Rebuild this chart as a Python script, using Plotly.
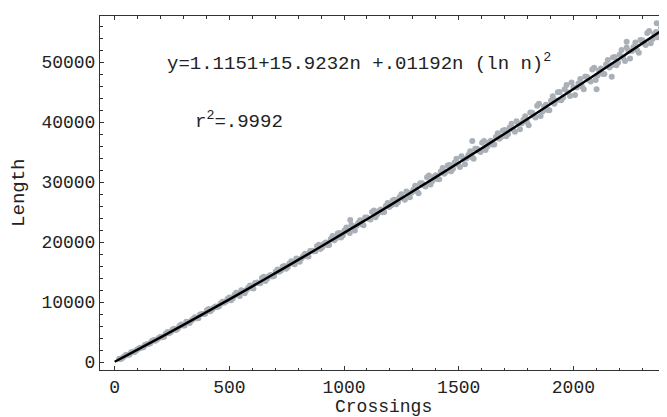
import plotly.graph_objects as go

# Fitted curve (crossings, length)
fit_n = [0, 100, 200, 300, 400, 500, 600, 700, 800, 900, 1000, 1100, 1200,
         1300, 1400, 1500, 1600, 1700, 1800, 1900, 2000, 2100, 2200, 2300, 2375]
fit_len = [40, 2070, 4120, 6200, 8310, 10450, 12610, 14800, 17010, 19250, 21510,
           23800, 26110, 28450, 30810, 33200, 35610, 38050, 40510, 42990, 45490,
           48010, 50550, 53100, 54990]

# Observed knots (estimated from the grey cloud)
obs_n = [20, 35, 50, 65, 80, 95, 110, 125, 140, 155, 170, 185, 200, 215, 230, 245,
         260, 275, 290, 305, 320, 335, 350, 365, 380, 395, 410, 425, 440, 455, 470, 485,
         500, 515, 530, 545, 560, 575, 590, 605, 620, 635, 650, 665, 680, 695, 710, 725,
         740, 755, 770, 785, 800, 815, 830, 845, 860, 875, 890, 905, 920, 935, 950, 965,
         980, 995, 1010, 1025, 1040, 1055, 1070, 1085, 1100, 1115, 1130, 1145, 1160, 1175, 1190, 1205,
         1220, 1235, 1250, 1265, 1280, 1295, 1310, 1325, 1340, 1355, 1370, 1385, 1400, 1415, 1430, 1445,
         1460, 1475, 1490, 1505, 1520, 1535, 1550, 1565, 1580, 1595, 1610, 1625, 1640, 1655, 1670, 1685,
         1700, 1715, 1730, 1745, 1760, 1775, 1790, 1805, 1820, 1835, 1850, 1865, 1880, 1895, 1910, 1925,
         1940, 1955, 1970, 1985, 2000, 2015, 2030, 2045, 2060, 2075, 2090, 2105, 2120, 2135, 2150, 2165,
         2180, 2195, 2210, 2225, 2240, 2255, 2270, 2285, 2300, 2315, 2330, 2345, 2360, 2375,
         1027, 1559, 2101, 2167, 2232, 2363]
obs_len = [540, 690, 1190, 1240, 1690, 1950, 2380, 2450, 2950, 3120, 3660, 3770, 4210, 4220, 4980, 5000,
           5550, 5560, 6260, 6070, 6680, 6910, 7470, 7300, 8010, 8050, 8820, 8760, 9260, 9280, 10050, 10070,
           10750, 10570, 11550, 11020, 11850, 12020, 12740, 12270, 13250, 13130, 14200, 13880, 14510, 14340, 15420, 15250,
           15980, 15820, 16800, 16280, 17110, 17300, 18030, 17570, 18550, 18440, 19530, 19140, 19930, 19520, 20980, 20570,
           21510, 21100, 22410, 21480, 22580, 22700, 23640, 22780, 24100, 23770, 25240, 24620, 25410, 25010, 26480, 26080,
           27030, 26630, 27960, 27030, 28130, 28260, 29390, 28140, 29790, 29250, 31100, 30160, 31110, 30470, 32330, 31690,
           32840, 32200, 33860, 32520, 33880, 33940, 35110, 33870, 35530, 34990, 36850, 35920, 36890, 36250, 38120, 37480,
           38650, 38020, 39690, 38360, 39730, 39800, 40960, 39460, 41530, 40730, 43050, 41730, 42880, 41960, 44280, 43600,
           45020, 44100, 46160, 44330, 45750, 45740, 47160, 45450, 47520, 46730, 49060, 47750, 48910, 47990, 50320, 49400,
           50820, 49900, 51980, 50150, 51830, 51820, 53250, 51550, 53620, 52830, 55160, 53840, 55000, 54220,
           23670, 36830, 45450, 47550, 53380, 56450]

obs2_n = [27, 42, 57, 72, 87, 102, 117, 132, 147, 162, 177, 192, 207, 222, 237, 252,
          267, 282, 297, 312, 327, 342, 357, 372, 387, 402, 417, 432, 447, 462, 477, 492,
          507, 522, 537, 552, 567, 582, 597, 612, 627, 642, 657, 672, 687, 702, 717, 732,
          747, 762, 777, 792, 807, 822, 837, 852, 867, 882, 897, 912, 927, 942, 957, 972,
          987, 1002, 1017, 1032, 1047, 1062, 1077, 1092, 1107, 1122, 1137, 1152, 1167, 1182, 1197, 1212,
          1227, 1242, 1257, 1272, 1287, 1302, 1317, 1332, 1347, 1362, 1377, 1392, 1407, 1422, 1437, 1452,
          1467, 1482, 1497, 1512, 1527, 1542, 1557, 1572, 1587, 1602, 1617, 1632, 1647, 1662, 1677, 1692,
          1707, 1722, 1737, 1752, 1767, 1782, 1797, 1812, 1827, 1842, 1857, 1872, 1887, 1902, 1917, 1932,
          1947, 1962, 1977, 1992, 2007, 2022, 2037, 2052, 2067, 2082, 2097, 2112, 2127, 2142, 2157, 2172,
          2187, 2202, 2217, 2232, 2247, 2262, 2277, 2292, 2307, 2322, 2337, 2352, 2367, 2382]
obs2_len = [500, 970, 1170, 1620, 1670, 2160, 2360, 2820, 3020, 3480, 3540, 3990, 4120, 4700, 4800, 5410,
            5330, 5980, 6080, 6690, 6500, 7180, 7280, 7900, 8010, 8620, 8460, 9060, 9170, 9760, 9870, 10490,
            10300, 11180, 11150, 11970, 11450, 12370, 12350, 13170, 13150, 13980, 13510, 14290, 14270, 15040, 15030, 15860,
            15540, 16420, 16400, 17230, 16720, 17650, 17640, 18480, 18460, 19300, 18830, 19670, 19490, 20500, 20310, 21400,
            20770, 21930, 21750, 22840, 21910, 23160, 22970, 24070, 23890, 24980, 24130, 25150, 24970, 26000, 25820, 26920,
            26290, 27470, 27290, 28400, 27470, 28720, 28450, 29810, 29460, 30810, 29570, 30820, 30480, 31740, 31390, 32750,
            31810, 33270, 32930, 34290, 32950, 34510, 34170, 35540, 35200, 36560, 35330, 36590, 36260, 37520, 37190, 38560,
            37620, 39090, 38760, 40130, 38800, 40370, 40040, 41590, 41050, 42720, 41010, 42560, 42020, 43560, 43030, 44950,
            43640, 45440, 44910, 46580, 44500, 46430, 45900, 47580, 47050, 48730, 47020, 48580, 48050, 49600, 49070, 50750,
            49440, 51250, 50720, 52410, 50580, 52520, 51990, 53680, 53150, 54820, 53120, 54670, 54140, 55690]

x_ticks = [0, 500, 1000, 1500, 2000]
y_ticks = [0, 10000, 20000, 30000, 40000, 50000]

FONT = "Liberation Mono, Courier New, monospace"
TXT = "#222"

fig = go.Figure()
fig.add_trace(go.Scatter(x=obs_n + obs2_n, y=obs_len + obs2_len, mode="markers",
                         marker=dict(color="#aab0b8", size=6, line=dict(width=0)),
                         showlegend=False, hoverinfo="skip"))
fig.add_trace(go.Scatter(x=fit_n, y=fit_len, mode="lines",
                         line=dict(color="black", width=2.5, shape="spline"),
                         showlegend=False))

axis_common = dict(showgrid=False, zeroline=False, showline=True, linecolor="#333",
                   linewidth=1, ticks="inside", ticklen=4, tickcolor="#333",
                   automargin=False,
                   tickfont=dict(family=FONT, size=18, color=TXT))

fig.update_xaxes(range=[-64, 2408], tickvals=x_ticks, mirror="ticks",
                 minor=dict(dtick=100, ticks="inside", ticklen=2.5, tickcolor="#333"),
                 **axis_common)
fig.update_yaxes(range=[-1333, 57667], tickvals=y_ticks, tickformat="d",
                 minor=dict(dtick=2000, ticks="inside", ticklen=2.5, tickcolor="#333"),
                 **axis_common)

# axis titles
fig.add_annotation(xref="paper", yref="paper", x=0.5, y=-0.104, xanchor="center", yanchor="middle",
                   showarrow=False, text="Crossings", font=dict(family=FONT, size=18, color=TXT))
fig.add_annotation(xref="paper", yref="paper", x=-0.143, y=0.5, xanchor="center", yanchor="middle",
                   showarrow=False, text="Length", textangle=-90,
                   font=dict(family=FONT, size=19, color=TXT))

fig.add_annotation(x=220, y=50000, xanchor="left", yanchor="middle", showarrow=False,
                   text="y=1.1151+15.9232n +.01192n (ln n)<sup>2</sup>",
                   font=dict(family=FONT, size=19, color=TXT))
fig.add_annotation(x=342, y=40333, xanchor="left", yanchor="middle", showarrow=False,
                   text="r<sup>2</sup>=.9992",
                   font=dict(family=FONT, size=19, color=TXT))

# the page body keeps an 8px margin, so the figure is 8px smaller and shifted accordingly
fig.update_layout(width=659, height=409, margin=dict(l=92, r=0, t=8, b=47, autoexpand=False),
                  plot_bgcolor="white", paper_bgcolor="white")

fig.write_html("out.html")
